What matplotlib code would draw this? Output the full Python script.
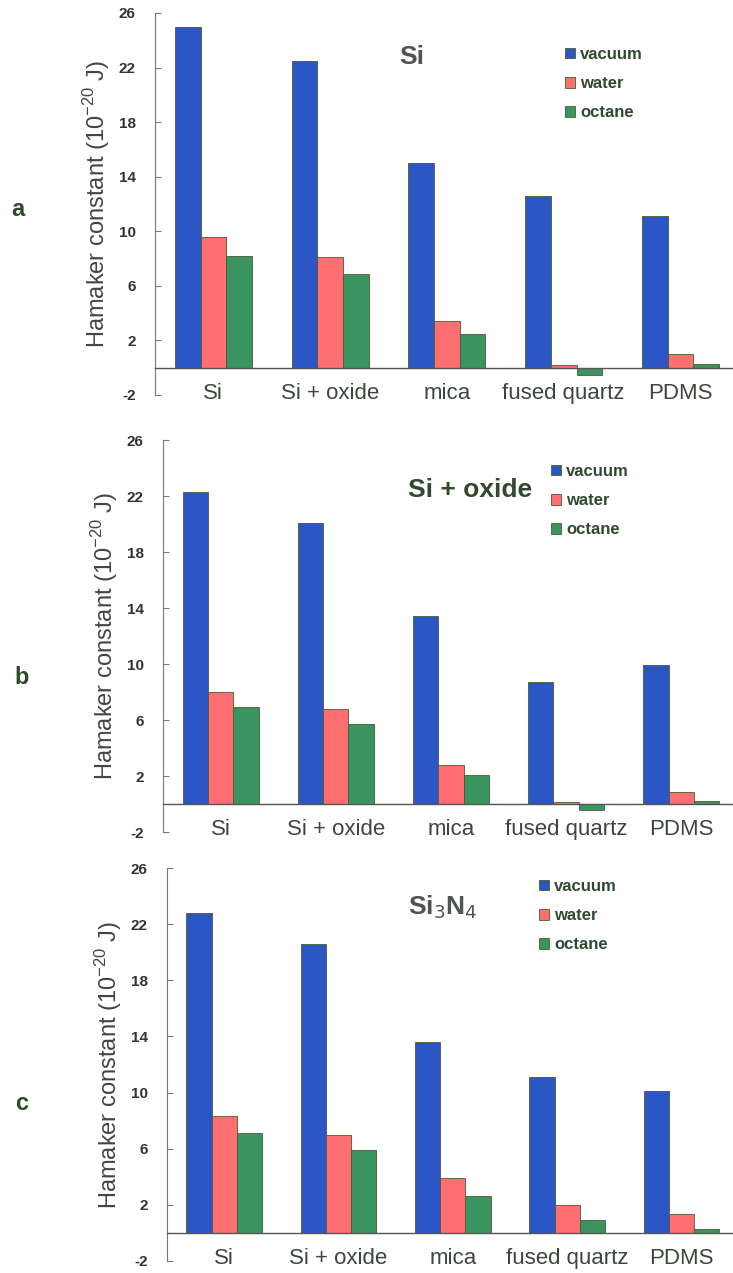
import numpy as np
import matplotlib.pyplot as plt

plt.rcParams['font.family'] = ['Liberation Sans', 'DejaVu Sans']

categories = ["Si", "Si + oxide", "mica", "fused quartz", "PDMS"]
media = ["vacuum", "water", "octane"]

# Hamaker constants (10^-20 J), one list per tip material and medium
si_vacuum = [25.0, 22.5, 15.0, 12.6, 11.1]
si_water = [9.6, 8.1, 3.4, 0.2, 1.0]
si_octane = [8.2, 6.9, 2.5, -0.5, 0.3]

ox_vacuum = [22.3, 20.1, 13.4, 8.7, 9.9]
ox_water = [8.0, 6.8, 2.8, 0.15, 0.85]
ox_octane = [6.9, 5.7, 2.1, -0.4, 0.2]

sn_vacuum = [22.8, 20.6, 13.6, 11.1, 10.1]
sn_water = [8.3, 7.0, 3.9, 2.0, 1.35]
sn_octane = [7.1, 5.9, 2.6, 0.9, 0.3]

panel_titles = ["Si", "Si + oxide", "Si$_3$N$_4$"]
panel_letters = ["a", "b", "c"]
yticks = [-2, 2, 6, 10, 14, 18, 22, 26]

colors = ["#2b56c6", "#ff6f72", "#3a9460"]
title_colors = ["#505450", "#33482e", "#505450"]
text_col = "#3c463c"

W, H = 733, 1273
fig = plt.figure(figsize=(W / 100, H / 100), dpi=100)


def fx(px):
    return px / W


def fy(py):
    return 1 - py / H


# axes boxes in pixels: left, top, bottom
boxes = [(155, 13, 395), (163, 440, 832), (167, 868, 1261)]
title_pos = [(412, 57), (470, 490), (443, 907)]
legend_pos = [(550, 32), (536, 449), (524, 864)]
letter_pos = [(18, 210), (22, 678), (22, 1103)]

data = [
    (si_vacuum, si_water, si_octane),
    (ox_vacuum, ox_water, ox_octane),
    (sn_vacuum, sn_water, sn_octane),
]

x = np.arange(len(categories))
w = 0.22

for i, (series, (left, top, bottom)) in enumerate(zip(data, boxes)):
    ax = fig.add_axes([fx(left), fy(bottom), fx(733 - left), (bottom - top) / H])
    for s in ["top", "right"]:
        ax.spines[s].set_visible(False)
    # x axis sits on the zero line
    ax.spines["bottom"].set_position(("data", 0))
    ax.spines["bottom"].set_color("#555555")
    ax.spines["bottom"].set_linewidth(1.0)
    ax.spines["bottom"].set_zorder(3)
    ax.spines["left"].set_color("#777777")
    ax.spines["left"].set_linewidth(0.8)

    for j, vals in enumerate(series):
        ax.bar(x + (j - 1) * w, vals, w, color=colors[j], edgecolor="#4d5a2e",
               linewidth=0.6, label=media[j], zorder=2)
    ax.set_xlim(-0.5, 4.45)
    ax.set_ylim(-2, 26)
    ax.set_yticks(yticks)
    ax.set_yticklabels([str(t) for t in yticks], fontsize=11, fontweight="bold", color="#333333")
    ax.set_xticks(x)
    ax.set_xticklabels(categories, fontsize=16, color=text_col)
    ax.tick_params(axis="x", length=0, pad=11)
    ax.tick_params(axis="y", direction="in", length=4, color="#777777", width=0.8, pad=14)
    ax.set_ylabel(r"Hamaker constant (10$^{\mathregular{-20}}$ J)", fontsize=17,
                  color="#444444", labelpad=5)

    leg = ax.legend(loc="upper left", bbox_to_anchor=(fx(legend_pos[i][0]), fy(legend_pos[i][1])),
                    bbox_transform=fig.transFigure, frameon=False, handlelength=0.6,
                    handleheight=0.6, handletextpad=0.3, labelspacing=0.85,
                    prop={"weight": "bold", "size": 12})
    for t in leg.get_texts():
        t.set_color("#2f4a2f")

    fig.text(fx(title_pos[i][0]), fy(title_pos[i][1]), panel_titles[i], fontsize=19,
             fontweight="bold", color=title_colors[i], ha="center", va="center")
    fig.text(fx(letter_pos[i][0]), fy(letter_pos[i][1]), panel_letters[i], fontsize=17,
             fontweight="bold", color="#2f4a2a", ha="center", va="center")

fig.savefig("out.png", dpi=100)
